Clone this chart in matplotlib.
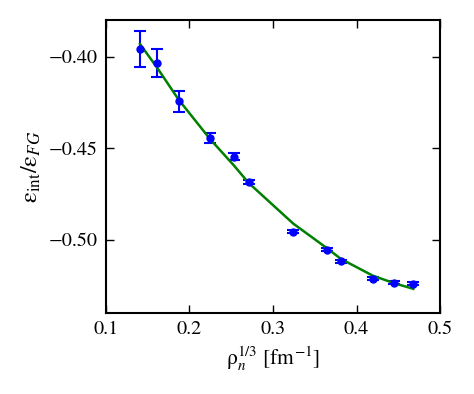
import matplotlib
matplotlib.use('Agg')
import matplotlib.pyplot as plt

# data
rho = [0.1407, 0.1615, 0.187, 0.2246, 0.2533, 0.2709, 0.3243, 0.3643, 0.3811, 0.4194, 0.4449, 0.468]
eps = [-0.3958, -0.4036, -0.4245, -0.4444, -0.4547, -0.4683, -0.4957, -0.5054, -0.5118, -0.5212, -0.5235, -0.5241]
err = [0.0100, 0.0076, 0.0060, 0.0027, 0.0020, 0.0010, 0.0008, 0.0008, 0.0008, 0.0008, 0.0008, 0.0008]
fit = [-0.3931, -0.4062, -0.4235, -0.4450, -0.4595, -0.4690, -0.4912, -0.5045, -0.5104, -0.5196, -0.5237, -0.5268]

plt.rcParams['font.family'] = 'STIXGeneral'
plt.rcParams['mathtext.fontset'] = 'stix'

fig = plt.figure(figsize=(4.74, 3.94), dpi=100)
ax = fig.add_axes([0.2236, 0.2056, 0.7047, 0.7436])

ax.errorbar(rho, eps, yerr=err, fmt='o', color='b', ms=5, mec='b',
            elinewidth=1.5, capsize=4.5, capthick=1.5)
ax.plot(rho, fit, color='g', lw=1.8)

ax.set_xlim(0.1, 0.5)
ax.set_ylim(-0.54, -0.38)
ax.set_xticks([0.1, 0.2, 0.3, 0.4, 0.5])
ax.set_yticks([-0.50, -0.45, -0.40])
ax.set_yticklabels(['\u22120.50', '\u22120.45', '\u22120.40'])
ax.tick_params(direction='in', top=True, right=True, length=6, width=1,
               labelsize=14.5, pad=6)
for s in ax.spines.values():
    s.set_linewidth(1.5)

ax.set_xlabel(r'$\mathrm{\rho}_n^{1/3}$ [fm$^{-1}$]', fontsize=15.5)
ax.set_ylabel(r'$\mathrm{\varepsilon}_{\rm int}/\mathrm{\varepsilon}_{FG}$', fontsize=17.5)

fig.savefig('out.png', dpi=100)
